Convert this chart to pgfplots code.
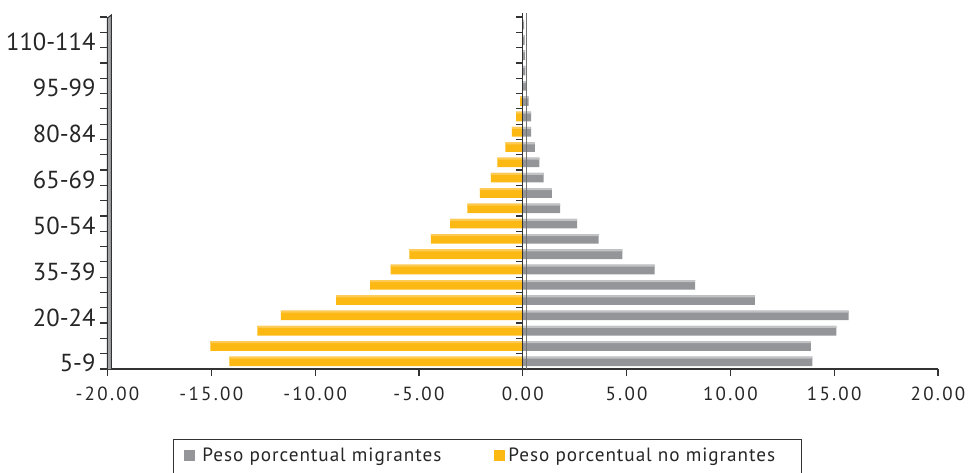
\documentclass[border=0pt]{standalone}
\usepackage{pgfplots}
\usepackage{pgfplotstable}
\pgfplotsset{compat=1.18}
\usepackage{fontspec}
\setmainfont{PT Sans}
\newfontfamily\ticksfont[LetterSpace=12]{PT Sans}
\newfontfamily\legfont[LetterSpace=5]{PT Sans}

\definecolor{migr}{HTML}{939598}
\definecolor{migrhi}{HTML}{C2C3C5}
\definecolor{nomigr}{HTML}{FDB913}
\definecolor{nomigrhi}{HTML}{FDCB55}
\definecolor{axisdark}{HTML}{333333}
\definecolor{band}{HTML}{A4A5A7}

% Percentage weight by five-year age group (idx 0 = 5-9 ... idx 22 = 115-119)
\pgfplotstableread{
idx migr  nomigr
0   13.95 -14.13
1   13.88 -15.05
2   15.10 -12.78
3   15.70 -11.65
4   11.18 -8.99
5   8.30  -7.35
6   6.35  -6.36
7   4.80  -5.46
8   3.65  -4.43
9   2.62  -3.50
10  1.80  -2.67
11  1.40  -2.06
12  1.00  -1.54
13  0.80  -1.22
14  0.58  -0.84
15  0.40  -0.52
16  0.40  -0.32
17  0.28  -0.13
18  0.16  -0.03
19  0.13  0
20  0.11  0
21  0.09  0
22  0.07  0
}\pyramid

\begin{document}
\begin{tikzpicture}
\useasboundingbox (-53.75pt,-51.5pt) rectangle (430.75pt,184.5pt);
\begin{axis}[
  at={(0,0)}, anchor=south west, scale only axis,
  width=415.25pt, height=176pt,
  xmin=-20, xmax=20, ymin=-0.5, ymax=22.5,
  axis x line*=bottom, axis y line*=left,
  axis line style={axisdark, line width=0.6pt},
  every tick/.style={axisdark, line width=0.6pt},
  tick align=outside,
  xtick={-20,-15,...,20},
  major tick length=3.5pt,
  x tick label style={font=\ticksfont\fontsize{9.5}{10}\selectfont, text=black!85, yshift=-2pt,
    /pgf/number format/.cd, fixed, fixed zerofill, precision=2, assume math mode=true},
  ytick={0,3,...,21},
  yticklabels={5-9,20-24,35-39,50-54,65-69,80-84,95-99,110-114},
  y tick label style={font=\fontsize{12.3}{13}\selectfont, text=black!85, xshift=1pt, yshift=-1pt},
  ytick style={draw=none},
  clip=false,
]
% no migrantes (left side)
\addplot[xbar, bar width=4.8pt, bar shift=0pt, fill=nomigr, draw=none]
  table[x=nomigr, y=idx]{\pyramid};
\addplot[xbar, bar width=1pt, bar shift=1.9pt, fill=nomigrhi, draw=none]
  table[x=nomigr, y=idx]{\pyramid};
% migrantes (right side)
\addplot[xbar, bar width=4.8pt, bar shift=0pt, fill=migr, draw=none]
  table[x=migr, y=idx]{\pyramid};
\addplot[xbar, bar width=1pt, bar shift=1.9pt, fill=migrhi, draw=none]
  table[x=migr, y=idx]{\pyramid};

% central axis at zero with its category ticks
\draw[black!55, line width=0.3pt] ([xshift=2pt]axis cs:0,-0.5) -- ([xshift=2pt,yshift=2pt]axis cs:0,22.5);
\draw[axisdark, line width=0.6pt] (axis cs:0,-0.5) -- ([yshift=2pt]axis cs:0,22.5);
\pgfplotsinvokeforeach{0,...,23}{
  \draw[axisdark, line width=0.6pt] ([xshift=-3.5pt]axis cs:0,#1-0.5) -- (axis cs:0,#1-0.5);
  \draw[axisdark, line width=0.6pt] ([xshift=-3.5pt]axis cs:-20,#1-0.5) -- (axis cs:-20,#1-0.5);
}
\end{axis}

% depth band along the left axis
\fill[band] (0,0) -- (0,175.5pt) -- (1.9pt,177pt) -- (1.9pt,0) -- cycle;
\draw[axisdark, line width=0.5pt] (0,0) -- (0,175.5pt) -- (1.9pt,177pt) -- (1.9pt,0);

% legend
\draw[axisdark, line width=0.5pt] (32.75pt,-55pt) -- (32.75pt,-35pt) -- (346.75pt,-35pt) -- (346.75pt,-55pt);
\fill[migr] (38.25pt,-40.5pt) rectangle (43.75pt,-46pt);
\node[anchor=base west, inner sep=0pt, font=\legfont\fontsize{9.6}{10}\selectfont, text=black!85] at (47.25pt,-46pt) {Peso porcentual migrantes};
\fill[nomigr] (193pt,-40.5pt) rectangle (198.5pt,-46pt);
\node[anchor=base west, inner sep=0pt, font=\legfont\fontsize{9.6}{10}\selectfont, text=black!85] at (200.25pt,-46pt) {Peso porcentual no migrantes};
\end{tikzpicture}
\end{document}
